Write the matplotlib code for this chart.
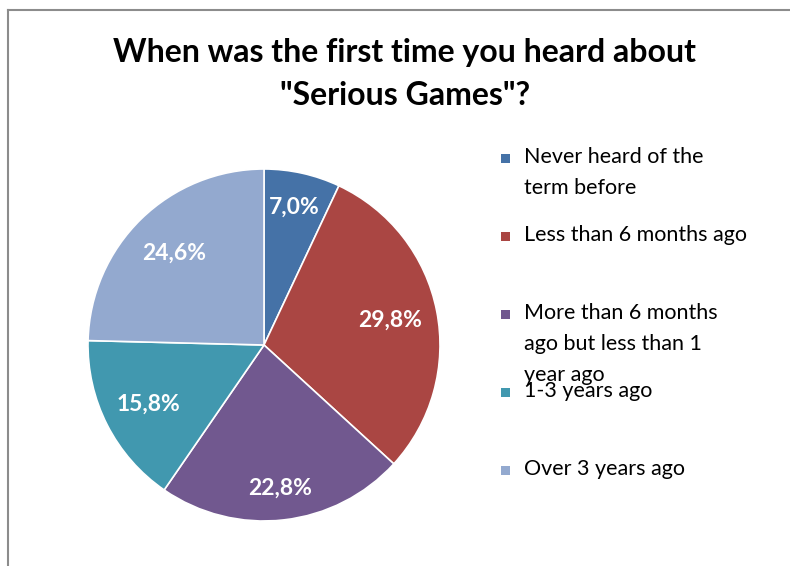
import numpy as np
import matplotlib
matplotlib.use("Agg")
import matplotlib.pyplot as plt
from matplotlib.patches import Rectangle
from matplotlib.lines import Line2D

title = 'When was the first time you heard about\n"Serious Games"?'
categories = [
    "Never heard of the\nterm before",
    "Less than 6 months ago",
    "More than 6 months\nago but less than 1\nyear ago",
    "1-3 years ago",
    "Over 3 years ago",
]
shares = [7.0, 29.8, 22.8, 15.8, 24.6]
colors = ["#4572A7", "#AA4643", "#71588F", "#4198AF", "#93A9CF"]

W, H = 790, 566
fig = plt.figure(figsize=(W / 100, H / 100), dpi=100)
fig.patch.set_facecolor("white")

# chart frame (top and left edges visible)
fig.add_artist(Line2D([8 / W, 1.0], [1 - 10 / H, 1 - 10 / H], transform=fig.transFigure,
                      color="#8c8c8c", lw=1.5))
fig.add_artist(Line2D([8 / W, 8 / W], [0.0, 1 - 10 / H], transform=fig.transFigure,
                      color="#8c8c8c", lw=1.5))

fig.text(405 / W, 1 - 74 / H, title, ha="center", va="center", fontsize=23,
         fontweight="bold", family="Lato", linespacing=1.55, color="black")

# pie axes
cx, cy, r = 264, H - 345, 176
ax = fig.add_axes([(cx - r) / W, (cy - r) / H, 2 * r / W, 2 * r / H])
wedges, _, autotexts = ax.pie(
    shares, colors=colors, startangle=90, counterclock=False, radius=1.0,
    autopct=lambda p: f"{p:.1f}%".replace(".", ","), pctdistance=0.77,
    wedgeprops=dict(edgecolor="white", linewidth=1.2),
    textprops=dict(color="white", fontsize=16.5, fontweight="bold", family="Lato"),
)
# best-fit style radial placement of the percentage labels
label_dist = [0.80, 0.73, 0.82, 0.74, 0.73]
for w, t, d in zip(wedges, autotexts, label_dist):
    a = np.deg2rad((w.theta1 + w.theta2) / 2)
    t.set_position((d * np.cos(a), d * np.sin(a)))
ax.set_xlim(-1, 1)
ax.set_ylim(-1, 1)
ax.set_aspect("equal")
ax.axis("off")

# legend
leg_x, text_x = 505, 524
leg_y0, leg_step = 158, 78
for i, (label, col) in enumerate(zip(categories, colors)):
    y = leg_y0 + i * leg_step
    fig.add_artist(Rectangle(((leg_x - 4.5) / W, 1 - (y + 4.5) / H), 9 / W, 9 / H,
                             transform=fig.transFigure, facecolor=col, edgecolor="none"))
    fig.text(text_x / W, 1 - (y - 11) / H, label, ha="left", va="top", fontsize=15.5,
             family="Lato", linespacing=1.7, color="black")

fig.savefig("out.png", dpi=100)
